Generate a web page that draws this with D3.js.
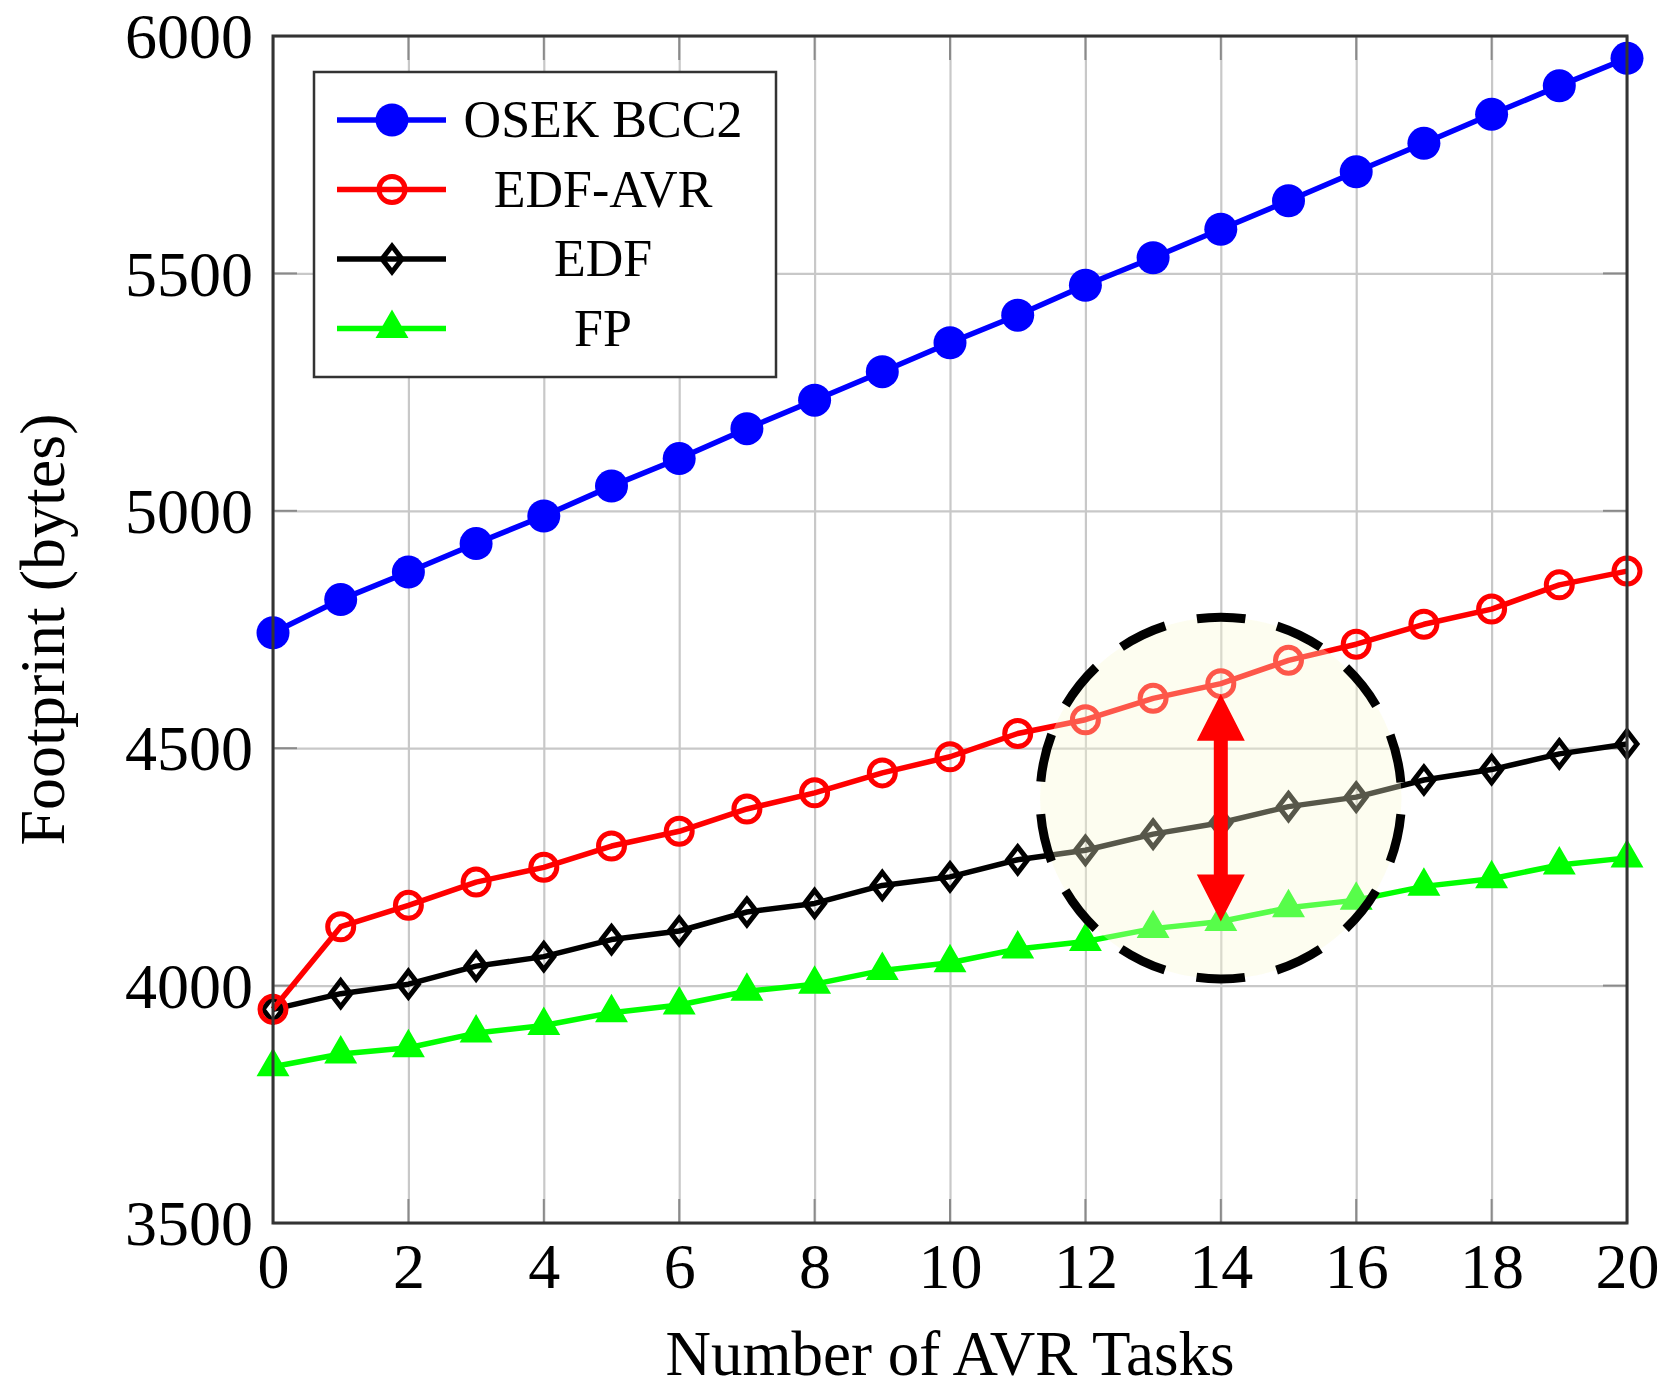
<!doctype html>
<html>
<head>
    <script src="https://d3js.org/d3.v7.min.js"></script>
    <style>
        body { margin: 0; background: #fff; }
        text { font-family: "Liberation Serif", "DejaVu Serif", serif; fill: #000; }
    </style>
</head>
<body>
    <script>
        // values
        let tasks = [0, 1, 2, 3, 4, 5, 6, 7, 8, 9, 10, 11, 12, 13, 14, 15, 16, 17, 18, 19, 20];
        let osekBcc2 = [4743, 4813, 4871, 4931, 4989, 5052, 5110, 5173, 5233, 5293, 5354, 5412, 5475, 5533, 5593, 5653, 5714, 5774, 5835, 5895, 5953];
        let edfAvr = [3950, 4124, 4169, 4218, 4249, 4294, 4325, 4372, 4406, 4448, 4482, 4531, 4560, 4605, 4636, 4685, 4719, 4761, 4793, 4844, 4873];
        let edf = [3950, 3983, 4003, 4041, 4061, 4097, 4115, 4155, 4173, 4211, 4229, 4265, 4285, 4319, 4343, 4377, 4397, 4433, 4455, 4488, 4509];
        let fp = [3829, 3856, 3869, 3900, 3916, 3943, 3959, 3988, 4003, 4032, 4048, 4077, 4093, 4120, 4135, 4164, 4180, 4209, 4225, 4254, 4269];
        let seriesNames = ["OSEK BCC2", "EDF-AVR", "EDF", "FP"];
        let xTicks = [0, 2, 4, 6, 8, 10, 12, 14, 16, 18, 20];
        let yTicks = [3500, 4000, 4500, 5000, 5500, 6000];
        // highlighted region (task, bytes) and its half sizes
        let focusTask = 14, focusBytes = 4395, focusHalfTasks = 2.67, focusHalfBytes = 381;

        let width = 1665, height = 1391;
        let margin = {left: 273, right: 38, top: 36, bottom: 168};
        let x = d3.scaleLinear().domain([0, 20]).range([margin.left, width - margin.right]);
        let y = d3.scaleLinear().domain([3500, 6000]).range([height - margin.bottom, margin.top]);

        let svg = d3.select("body").append("svg")
                    .attr("width", width).attr("height", height);

        // grid
        svg.append("g").attr("transform", "translate(0," + y(3500) + ")")
            .call(d3.axisBottom(x).tickValues(xTicks).tickSize(-(y(3500) - y(6000))).tickFormat(""))
            .call(g => g.select(".domain").remove())
            .call(g => g.selectAll("line").attr("stroke", "#c8c8c8").attr("stroke-width", 2.2));
        svg.append("g").attr("transform", "translate(" + x(0) + ",0)")
            .call(d3.axisLeft(y).tickValues(yTicks).tickSize(-(x(20) - x(0))).tickFormat(""))
            .call(g => g.select(".domain").remove())
            .call(g => g.selectAll("line").attr("stroke", "#c8c8c8").attr("stroke-width", 2.2));

        // inward tick marks on all four sides
        let tickLen = 24;
        let ticks = svg.append("g").attr("stroke", "#8a8a8a").attr("stroke-width", 2);
        xTicks.forEach(function(t){
            ticks.append("line").attr("x1", x(t)).attr("x2", x(t)).attr("y1", y(3500)).attr("y2", y(3500) - tickLen);
            ticks.append("line").attr("x1", x(t)).attr("x2", x(t)).attr("y1", y(6000)).attr("y2", y(6000) + tickLen);
        });
        yTicks.forEach(function(t){
            ticks.append("line").attr("y1", y(t)).attr("y2", y(t)).attr("x1", x(0)).attr("x2", x(0) + tickLen);
            ticks.append("line").attr("y1", y(t)).attr("y2", y(t)).attr("x1", x(20)).attr("x2", x(20) - tickLen);
        });

        function markerPath(type) {
            if (type == "diamond") return "M0,-13L10,0L0,13L-10,0Z";
            if (type == "triangle") return "M0,-15L13,7.5L-13,7.5Z";
            return null;
        }
        let styles = [
            {values: osekBcc2, color: "#0000ff", marker: "dot"},
            {values: edfAvr, color: "#ff0000", marker: "circle"},
            {values: edf, color: "#000000", marker: "diamond"},
            {values: fp, color: "#00ff00", marker: "triangle"}
        ];
        function drawMarker(g, s) {
            if (s.marker == "dot") {
                g.append("circle").attr("r", 16.5).attr("fill", s.color);
            } else if (s.marker == "circle") {
                g.append("circle").attr("r", 13).attr("fill", "none").attr("stroke", s.color).attr("stroke-width", 5);
            } else if (s.marker == "diamond") {
                g.append("path").attr("d", markerPath("diamond")).attr("fill", "none")
                    .attr("stroke", s.color).attr("stroke-width", 5).attr("stroke-linejoin", "miter");
            } else {
                g.append("path").attr("d", markerPath("triangle")).attr("fill", s.color)
                    .attr("stroke", s.color).attr("stroke-width", 4).attr("stroke-linejoin", "miter");
            }
        }

        let line = d3.line().x(function(d){return x(d[0]);}).y(function(d){return y(d[1]);});
        styles.slice().reverse().forEach(function(s){
            let pts = tasks.map(function(t, i){return [t, s.values[i]];});
            svg.append("path").datum(pts).attr("d", line)
                .attr("fill", "none").attr("stroke", s.color).attr("stroke-width", 5.5)
                .attr("stroke-linejoin", "round");
            pts.forEach(function(p){
                let g = svg.append("g").attr("transform", "translate(" + x(p[0]) + "," + y(p[1]) + ")");
                drawMarker(g, s);
            });
        });

        // highlight
        let rx = x(focusHalfTasks) - x(0), ry = y(focusBytes - focusHalfBytes) - y(focusBytes);
        let circ = 2 * Math.PI * (rx + ry) / 2;
        let period = circ / 14;
        svg.append("ellipse").attr("cx", x(focusTask)).attr("cy", y(focusBytes))
            .attr("rx", rx).attr("ry", ry)
            .attr("fill", "rgb(249,249,212)").attr("fill-opacity", 0.35);
        svg.append("ellipse").attr("cx", x(focusTask)).attr("cy", y(focusBytes))
            .attr("rx", rx).attr("ry", ry)
            .attr("fill", "none").attr("stroke", "#000").attr("stroke-width", 9)
            .attr("stroke-dasharray", (period * 0.6) + " " + (period * 0.4))
            .attr("stroke-dashoffset", -period * 0.2);

        // double arrow between EDF-AVR and FP at the focus task
        let ax = x(focusTask);
        let yTop = y(edfAvr[focusTask]) + 10, yBot = y(fp[focusTask]);
        let hw = 7, headW = 24, headL = 47;
        svg.append("path")
            .attr("d", "M" + ax + "," + yTop +
                       "L" + (ax + headW) + "," + (yTop + headL) +
                       "L" + (ax + hw) + "," + (yTop + headL) +
                       "L" + (ax + hw) + "," + (yBot - headL) +
                       "L" + (ax + headW) + "," + (yBot - headL) +
                       "L" + ax + "," + yBot +
                       "L" + (ax - headW) + "," + (yBot - headL) +
                       "L" + (ax - hw) + "," + (yBot - headL) +
                       "L" + (ax - hw) + "," + (yTop + headL) +
                       "L" + (ax - headW) + "," + (yTop + headL) + "Z")
            .attr("fill", "#ff0000");

        // frame
        svg.append("rect").attr("x", x(0)).attr("y", y(6000))
            .attr("width", x(20) - x(0)).attr("height", y(3500) - y(6000))
            .attr("fill", "none").attr("stroke", "#333").attr("stroke-width", 3);

        // tick labels
        let xAxis = svg.append("g").attr("transform", "translate(0," + y(3500) + ")")
            .call(d3.axisBottom(x).tickValues(xTicks).tickSize(0).tickFormat(d3.format("d")));
        xAxis.attr("font-family", null).attr("font-size", null);
        xAxis.select(".domain").remove();
        xAxis.selectAll("text").attr("y", 65).attr("dy", null).style("font-size", "64px");
        let yAxis = svg.append("g").attr("transform", "translate(" + x(0) + ",0)")
            .call(d3.axisLeft(y).tickValues(yTicks).tickSize(0).tickFormat(d3.format("d")));
        yAxis.attr("font-family", null).attr("font-size", null);
        yAxis.select(".domain").remove();
        yAxis.selectAll("text").attr("x", -20).attr("dy", "0.34em").style("font-size", "64px");

        // axis titles
        svg.append("text").attr("x", (x(0) + x(20)) / 2).attr("y", 1375)
            .attr("text-anchor", "middle").style("font-size", "63px")
            .text("Number of AVR Tasks");
        svg.append("text").attr("transform", "translate(64," + (y(3500) + y(6000)) / 2 + ") rotate(-90)")
            .attr("text-anchor", "middle").style("font-size", "64px")
            .text("Footprint (bytes)");

        // legend
        let legend = svg.append("g").attr("transform", "translate(314,72)");
        legend.append("rect").attr("width", 462).attr("height", 305)
            .attr("fill", "#fff").attr("stroke", "#333").attr("stroke-width", 2.5);
        styles.forEach(function(s, i){
            let row = legend.append("g").attr("transform", "translate(0," + (48 + i * 69.5) + ")");
            row.append("line").attr("x1", 23).attr("x2", 132).attr("y1", 0).attr("y2", 0)
                .attr("stroke", s.color).attr("stroke-width", 5.5);
            drawMarker(row.append("g").attr("transform", "translate(78,0)"), s);
            row.append("text").attr("x", 289).attr("y", 17).attr("text-anchor", "middle")
                .style("font-size", "52px").text(seriesNames[i]);
        });
    </script>
</body>
</html>
